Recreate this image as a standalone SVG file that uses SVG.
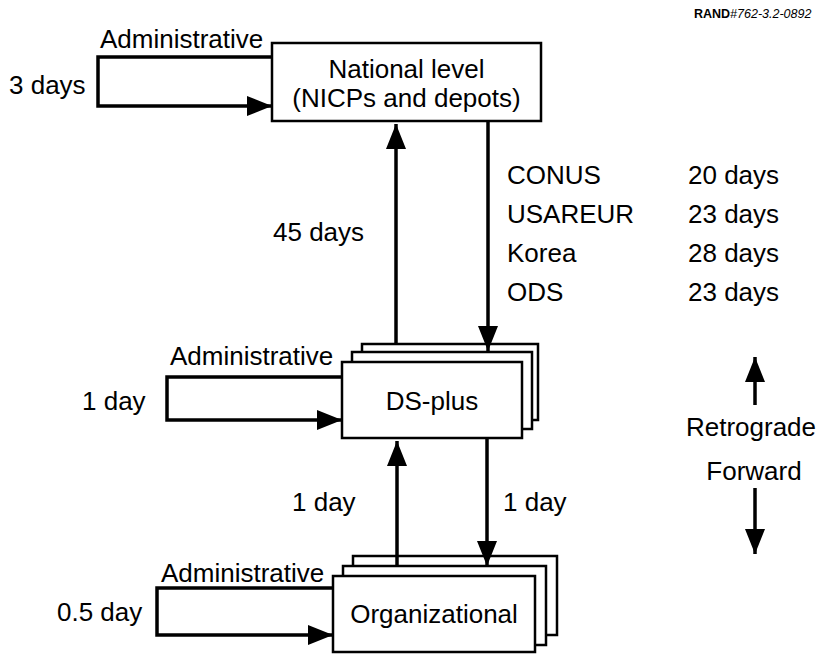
<svg xmlns="http://www.w3.org/2000/svg" width="822" height="654" viewBox="0 0 822 654">
<style>
  .t { font-family: "Liberation Sans", Arial, sans-serif; font-size: 26px; fill: #000; }
  .box { fill: #fff; stroke: #000; stroke-width: 2.5; }
  .ln { fill: none; stroke: #000; stroke-width: 3.5; }
</style>
<defs>
  <marker id="ah" markerUnits="userSpaceOnUse" markerWidth="26" markerHeight="22" refX="25" refY="10" orient="auto">
    <path d="M0,0 L25,10 L0,20 z" fill="#000"/>
  </marker>
</defs>
<rect width="822" height="654" fill="#fff"/>
<text x="694" y="18" style="font-family:'Liberation Sans',Arial,sans-serif;font-size:12.5px"><tspan font-weight="bold">RAND</tspan><tspan font-style="italic">#762-3.2-0892</tspan></text>

<g id="national">
  <rect class="box" x="272" y="43" width="269" height="78"/>
  <text class="t" x="406.5" y="78" text-anchor="middle">National level</text>
  <text class="t" x="406.5" y="107" text-anchor="middle">(NICPs and depots)</text>
</g>

<g id="dsplus">
  <rect class="box" x="362" y="344" width="176" height="76"/>
  <rect class="box" x="352" y="352" width="180" height="77"/>
  <rect class="box" x="342" y="362" width="180" height="76"/>
  <text class="t" x="432" y="410" text-anchor="middle">DS-plus</text>
</g>

<g id="organizational">
  <rect class="box" x="353" y="556" width="204" height="79"/>
  <rect class="box" x="343" y="566" width="203" height="79"/>
  <rect class="box" x="333" y="576" width="202" height="76"/>
  <text class="t" x="434" y="623" text-anchor="middle">Organizational</text>
</g>

<g id="connectors">
  <path class="ln" d="M272,57 H98 V106 H272" marker-end="url(#ah)"/>
  <path class="ln" d="M342,377 H167 V420 H342" marker-end="url(#ah)"/>
  <path class="ln" d="M333,588 H157 V635 H333" marker-end="url(#ah)"/>
  <path class="ln" d="M396,344 V124" marker-end="url(#ah)"/>
  <path class="ln" d="M488,121 V351" marker-end="url(#ah)"/>
  <path class="ln" d="M397,566 V441" marker-end="url(#ah)"/>
  <path class="ln" d="M487,438 V566" marker-end="url(#ah)"/>
  <path class="ln" d="M755,405 V357" marker-end="url(#ah)"/>
  <path class="ln" d="M755,488 V554" marker-end="url(#ah)"/>
</g>

<g id="labels">
  <text class="t" x="100" y="48">Administrative</text>
  <text class="t" x="9" y="94">3 days</text>
  <text class="t" x="170" y="365">Administrative</text>
  <text class="t" x="82" y="410">1 day</text>
  <text class="t" x="161" y="582">Administrative</text>
  <text class="t" x="57" y="621">0.5 day</text>
  <text class="t" x="273" y="241">45 days</text>
  <text class="t" x="292" y="511">1 day</text>
  <text class="t" x="503" y="511">1 day</text>
  <text class="t" x="507" y="184">CONUS</text>
  <text class="t" x="688" y="184">20 days</text>
  <text class="t" x="507" y="223">USAREUR</text>
  <text class="t" x="688" y="223">23 days</text>
  <text class="t" x="507" y="262">Korea</text>
  <text class="t" x="688" y="262">28 days</text>
  <text class="t" x="507" y="301">ODS</text>
  <text class="t" x="688" y="301">23 days</text>
  <text class="t" x="751" y="436" text-anchor="middle">Retrograde</text>
  <text class="t" x="754" y="480" text-anchor="middle">Forward</text>
</g>
</svg>
